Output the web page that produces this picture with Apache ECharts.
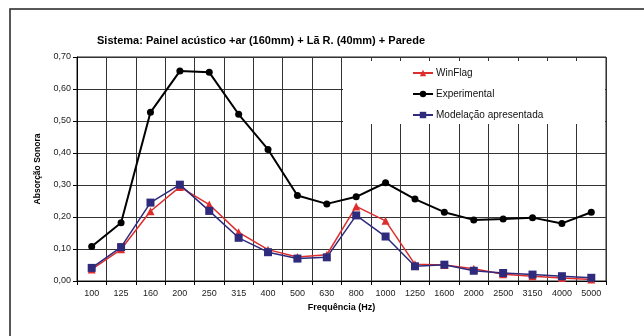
<!DOCTYPE html>
<html>
<head>
<meta charset="utf-8">
<script src="https://cdn.jsdelivr.net/npm/echarts@6/dist/echarts.min.js"></script>
<style>
  html, body { margin: 0; padding: 0; background: #fff; }
  #chart { width: 644px; height: 336px; }
</style>
</head>
<body>
<div id="chart"></div>
<script>
// Frequency bands (Hz)
const frequencies = ['100', '125', '160', '200', '250', '315', '400', '500', '630',
  '800', '1000', '1250', '1600', '2000', '2500', '3150', '4000', '5000'];

// Absorption coefficients per band
const winFlag = [0.036, 0.099, 0.218, 0.294, 0.239, 0.152, 0.098, 0.075, 0.082,
  0.233, 0.188, 0.052, 0.050, 0.038, 0.021, 0.015, 0.009, 0.005];
const experimental = [0.108, 0.182, 0.527, 0.656, 0.652, 0.521, 0.411, 0.267, 0.241,
  0.263, 0.307, 0.256, 0.215, 0.191, 0.194, 0.198, 0.180, 0.215];
const modelacao = [0.041, 0.106, 0.245, 0.301, 0.219, 0.135, 0.090, 0.070, 0.074,
  0.205, 0.139, 0.046, 0.051, 0.032, 0.025, 0.020, 0.015, 0.010];

// Y axis range
const yMin = 0, yMax = 0.7, yStep = 0.1;

const FONT = 'Liberation Sans, Arial, sans-serif';
const chart = echarts.init(document.getElementById('chart'), null, { renderer: 'canvas' });

const lineSeries = (name, data, color, symbol, size, width) => ({
  name, type: 'line', data,
  symbol, symbolSize: size,
  lineStyle: { color, width },
  itemStyle: { color },
  animation: false
});

chart.setOption({
  backgroundColor: '#fff',
  animation: false,
  title: {
    text: 'Sistema: Painel acústico +ar (160mm) + Lã R. (40mm) + Parede',
    left: 256, textAlign: 'center', top: 30,
    textStyle: { fontFamily: FONT, fontSize: 11, fontWeight: 'bold', color: '#000' }
  },
  graphic: [
    { type: 'rect', shape: { x: 10, y: 9, width: 700, height: 400 },
      style: { fill: 'none', stroke: '#222', lineWidth: 1.5 }, z: 10, silent: true },
    { type: 'rect', shape: { x: 343, y: 61, width: 262, height: 63 },
      style: { fill: '#fff' }, z: 3, silent: true }
  ],
  legend: {
    orient: 'vertical', left: 412, top: 68, padding: 0,
    itemWidth: 20, itemHeight: 8, itemGap: 11,
    textStyle: { fontFamily: FONT, fontSize: 10, lineHeight: 10, color: '#111',
      padding: [0, 0, 0, -2] },
    data: ['WinFlag', 'Experimental', 'Modelação apresentada'],
    z: 5
  },
  grid: {
    left: 77, right: 38, top: 57, bottom: 55,
    show: true, borderColor: '#222', borderWidth: 1, backgroundColor: '#fff'
  },
  xAxis: {
    type: 'category', data: frequencies, boundaryGap: true,
    name: 'Frequência (Hz)', nameLocation: 'middle', nameGap: 22,
    nameTextStyle: { fontFamily: FONT, fontSize: 9, fontWeight: 'bold', color: '#000' },
    axisLine: { lineStyle: { color: '#000', width: 1 } },
    axisTick: { show: true, length: 4, lineStyle: { color: '#000' } },
    axisLabel: { fontFamily: FONT, fontSize: 9, color: '#222', margin: 8 },
    splitLine: { show: true, lineStyle: { color: '#333', width: 1 } }
  },
  yAxis: {
    type: 'value', min: yMin, max: yMax, interval: yStep,
    name: 'Absorção Sonora', nameLocation: 'middle', nameGap: 31, nameRotate: 90,
    nameTextStyle: { fontFamily: FONT, fontSize: 8.5, fontWeight: 'bold', color: '#000' },
    axisLine: { show: true, lineStyle: { color: '#000', width: 1 } },
    axisTick: { show: true, length: 4, inside: false, lineStyle: { color: '#000' } },
    axisLabel: { fontFamily: FONT, fontSize: 9, color: '#222', margin: 6,
      formatter: v => v.toFixed(2).replace('.', ',') },
    splitLine: { show: true, lineStyle: { color: '#333', width: 1 } }
  },
  series: [
    lineSeries('WinFlag', winFlag, '#DD2E2E', 'triangle', 8, 1.5),
    lineSeries('Experimental', experimental, '#000000', 'circle', 7, 2),
    lineSeries('Modelação apresentada', modelacao, '#2E2A7C', 'rect', 8, 1.5)
  ]
});
</script>
</body>
</html>
